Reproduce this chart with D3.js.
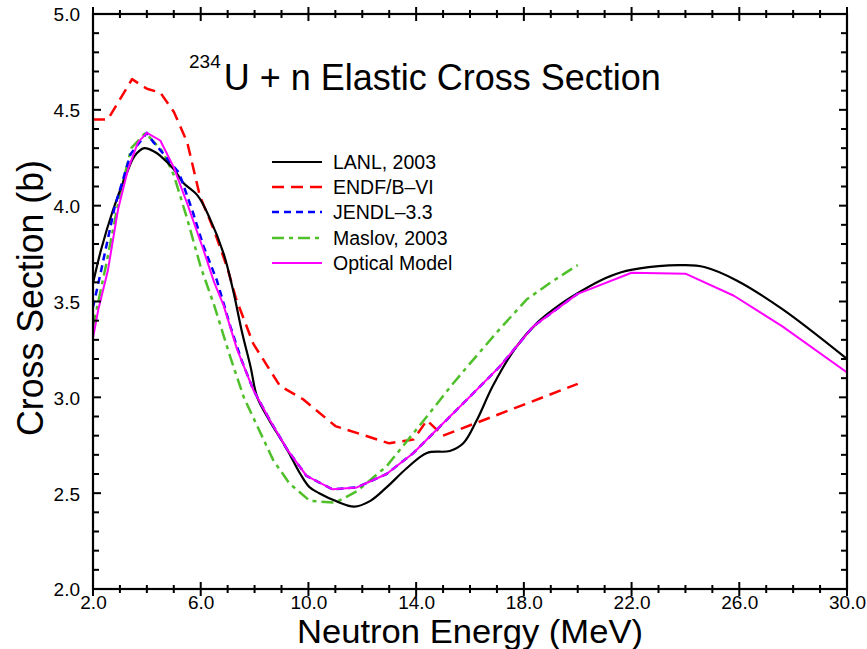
<!DOCTYPE html>
<html><head><meta charset="utf-8">
<script src="https://cdn.jsdelivr.net/npm/d3@7"></script>
<style>body{margin:0;background:#fff}svg{display:block}text{font-family:"Liberation Sans",Arial,Helvetica,sans-serif}</style>
</head><body><svg id="c" width="867" height="649"></svg>
<script>
const lanlX = [2.0,2.3,2.75,3.2,3.55,3.9,4.3,4.5,5.0,5.35,5.9,6.35,6.85,7.2,7.55,7.85,8.1,8.55,9.2,9.7,10.05,10.4,11.0,11.7,12.3,12.9,13.65,14.4,15.25,15.75,16.25,16.85,17.7,18.5,19.3,20.2,21.0,21.8,23.0,23.9,24.7,25.9,27.6,30.0];
const lanlY = [3.595,3.77,3.98,4.15,4.26,4.30,4.28,4.26,4.19,4.12,4.05,3.93,3.75,3.56,3.33,3.16,3.00,2.88,2.73,2.60,2.53,2.50,2.46,2.43,2.46,2.53,2.63,2.71,2.72,2.76,2.88,3.06,3.26,3.39,3.48,3.56,3.62,3.66,3.685,3.69,3.68,3.61,3.46,3.20];
const endfX = [2.0,2.55,3.45,4.0,4.5,5.0,5.5,5.97,6.5,7.0,7.3,7.95,8.94,9.8,11.0,13.0,13.9,14.4,15.0,20.0];
const endfY = [4.45,4.45,4.66,4.61,4.59,4.49,4.33,4.05,3.87,3.67,3.52,3.28,3.06,2.99,2.85,2.76,2.78,2.88,2.80,3.07];
const jendlX = [2.0,2.3,2.8,3.4,4.0,4.25,4.5,5.2,5.7,6.1,6.6,7.1,7.5,7.95,8.57,9.2,9.93,10.9,11.8,12.9,13.9,14.9,15.9,17.1,18.35,19.7,20.0];
const jendlY = [3.47,3.66,3.99,4.27,4.38,4.33,4.29,4.17,3.97,3.79,3.61,3.37,3.20,3.04,2.88,2.73,2.59,2.52,2.53,2.60,2.71,2.85,2.99,3.16,3.37,3.51,3.54];
const maslovX = [2.0,2.5,3.0,3.42,3.95,4.6,5.0,5.5,6.0,6.5,7.1,7.6,8.1,8.7,9.3,10.05,11.0,11.8,12.9,14.4,15.3,15.9,17.0,18.1,19.0,20.0];
const maslovY = [3.37,3.70,4.06,4.30,4.38,4.28,4.16,3.93,3.68,3.48,3.21,3.00,2.85,2.67,2.55,2.46,2.45,2.51,2.64,2.90,3.06,3.16,3.34,3.51,3.60,3.69];
const omX = [2.0,2.2,2.55,2.93,3.3,3.67,4.0,4.5,5.0,5.5,6.1,6.5,6.85,7.35,7.95,8.57,9.2,9.93,10.9,11.8,12.9,13.9,14.9,15.9,17.1,18.35,19.7,20.0,22.0,24.0,25.8,27.6,30.0];
const omY = [3.31,3.46,3.66,3.98,4.19,4.33,4.38,4.34,4.20,4.01,3.77,3.60,3.48,3.25,3.04,2.88,2.73,2.59,2.52,2.53,2.60,2.71,2.85,2.99,3.16,3.37,3.51,3.54,3.65,3.645,3.53,3.37,3.13];
const seriesNames = ["LANL, 2003","ENDF/B\u2013VI","JENDL\u20133.3","Maslov, 2003","Optical Model"];
const xTicks = [2,6,10,14,18,22,26,30];
const yTicks = [2.0,2.5,3.0,3.5,4.0,4.5,5.0];
const xMinor = d3.range(2,31,1);
const yMinor = d3.range(20,51,1).map(v=>v/10);

const svg = d3.select("#c");
const L=93,R=847,T=14,B=589;
const x = d3.scaleLinear().domain([2,30]).range([L,R]);
const y = d3.scaleLinear().domain([2,5]).range([B,T]);

const series = [
 {name:seriesNames[0], xs:lanlX, ys:lanlY, color:"#000", dash:null, w:2.2, curve:d3.curveCatmullRom},
 {name:seriesNames[1], xs:endfX, ys:endfY, color:"#ff0000", dash:"12,7", w:2.5, curve:d3.curveLinear},
 {name:seriesNames[2], xs:jendlX, ys:jendlY, color:"#0000ff", dash:"7,5", w:2.5, curve:d3.curveLinear},
 {name:seriesNames[3], xs:maslovX, ys:maslovY, color:"#4fbf2a", dash:"12,5,4,5", w:2.5, curve:d3.curveLinear},
 {name:seriesNames[4], xs:omX, ys:omY, color:"#ff00ff", dash:null, w:2, curve:d3.curveLinear}
];

svg.append("defs").append("clipPath").attr("id","pc").append("rect")
  .attr("x",L).attr("y",T).attr("width",R-L).attr("height",B-T);
const g = svg.append("g").attr("clip-path","url(#pc)");
[1,3,0,2,4].forEach(i=>{
  const s=series[i];
  const pts = s.xs.map((v,k)=>[v,s.ys[k]]);
  const p = g.append("path").attr("d", d3.line().x(d=>x(d[0])).y(d=>y(d[1])).curve(s.curve)(pts))
   .attr("fill","none").attr("stroke",s.color).attr("stroke-width",s.w).attr("stroke-linejoin","round");
  if (s.dash) p.attr("stroke-dasharray",s.dash);
});

const fmt = d3.format(".1f");
const isMajX = v => (v-2)%4===0;
const isMajY = v => Math.round(v*10)%5===0;

// tick marks as rectangles from the scales
const tickG = svg.append("g").attr("fill","#000");
xMinor.forEach(v=>{
  const h = isMajX(v)?7:4;
  [B,T].forEach(base=>{
    tickG.append("rect").attr("x",x(v)-1).attr("y",base-h).attr("width",2).attr("height",2*h);
  });
});
yMinor.forEach(v=>{
  const h = isMajY(v)?8:6;
  tickG.append("rect").attr("x",L).attr("y",y(v)-1).attr("width",h).attr("height",2);
  tickG.append("rect").attr("x",R-h).attr("y",y(v)-1).attr("width",h).attr("height",2);
});

svg.append("rect").attr("x",L).attr("y",T).attr("width",R-L).attr("height",B-T)
  .attr("fill","none").attr("stroke","#000").attr("stroke-width",2.2);

// labels
const bx = svg.append("g").attr("transform",`translate(0,${B})`)
  .call(d3.axisBottom(x).tickValues(xTicks).tickFormat(fmt).tickSize(0));
bx.select(".domain").remove();
bx.selectAll(".tick line").remove();
bx.selectAll("text").attr("font-size",19).attr("fill","#000").attr("dy",0).attr("y",20)
  .attr("font-family","'Liberation Sans',Arial,sans-serif");
const ly = svg.append("g").attr("transform",`translate(${L},0)`)
  .call(d3.axisLeft(y).tickValues(yTicks).tickFormat(fmt).tickSize(0));
ly.select(".domain").remove();
ly.selectAll(".tick line").remove();
ly.selectAll("text").attr("font-size",19).attr("fill","#000").attr("x",-13).attr("dy","0.36em")
  .attr("font-family","'Liberation Sans',Arial,sans-serif");

// axis titles
svg.append("text").attr("x",470).attr("y",643).attr("text-anchor","middle")
  .attr("font-size",33).attr("textLength",346).attr("lengthAdjust","spacingAndGlyphs")
  .text("Neutron Energy (MeV)");
svg.append("text").attr("transform","translate(43,298) rotate(-90)").attr("text-anchor","middle")
  .attr("font-size",36).attr("textLength",276).attr("lengthAdjust","spacingAndGlyphs")
  .text("Cross Section (b)");

// title
const t = svg.append("text").attr("x",189).attr("y",90).attr("font-size",36);
t.append("tspan").attr("font-size",19).attr("dy",-22).text("234");
t.append("tspan").attr("dy",22).attr("dx",3).text("U + n Elastic Cross Section");

// legend
const rows=[162,187,212,238,263];
series.forEach((s,i)=>{
  const ln = svg.append("line").attr("x1",272).attr("x2",322).attr("y1",rows[i]).attr("y2",rows[i])
    .attr("stroke",s.color).attr("stroke-width",s.w);
  if (s.dash) ln.attr("stroke-dasharray",s.dash);
  svg.append("text").attr("x",333).attr("y",rows[i]).attr("dy","0.35em").attr("font-size",19.5).text(s.name);
});
</script></body></html>
